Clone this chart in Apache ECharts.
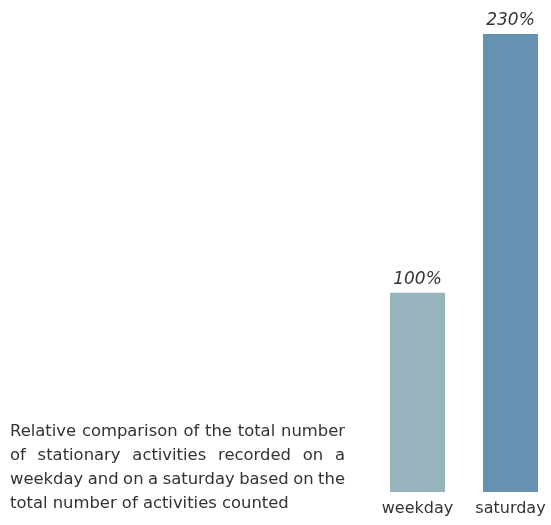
<!DOCTYPE html>
<html>
<head>
<meta charset="utf-8">
<script src="https://cdn.jsdelivr.net/npm/echarts@6/dist/echarts.min.js"></script>
<style>
  html, body { margin: 0; padding: 0; background: #fff; }
  #main { width: 551px; height: 525px; }
</style>
</head>
<body>
<div id="main"></div>
<script>
const days = ['weekday', 'saturday'];
const share = [100, 230];
const barColors = ['#97b4bd', '#6791b1'];
const noteLines = [
    'Relative comparison of the total number',
    'of stationary activities recorded on a',
    'weekday and on a saturday based on the',
    'total number of activities counted'
];

const FONT = '"DejaVu Sans", sans-serif';
const textColor = '#333';

// lay out the note as justified text (last line left aligned)
function noteGraphics() {
    const ctx = document.createElement('canvas').getContext('2d');
    // size the font so the last (unjustified) line is as long as in the original
    ctx.font = '16px ' + FONT;
    let size = 16 * 279 / ctx.measureText(noteLines[3]).width;
    size = Math.round(size * 10) / 10;
    const noteFont = size + 'px ' + FONT;
    ctx.font = noteFont;
    const left = 10, width = 335, top = 432, lineH = 24;
    let items = [];
    noteLines.forEach(function (line, i) {
        const y = top + i * lineH;
        if (i === noteLines.length - 1) {
            items.push({ type: 'text', x: left, y: y, style: { text: line, font: noteFont, fill: textColor, textVerticalAlign: 'middle' } });
            return;
        }
        const words = line.split(' ');
        const total = words.reduce((s, w) => s + ctx.measureText(w).width, 0);
        const gap = (width - total) / (words.length - 1);
        let x = left;
        words.forEach(function (w) {
            items.push({ type: 'text', x: x, y: y, style: { text: w, font: noteFont, fill: textColor, textVerticalAlign: 'middle' } });
            x += ctx.measureText(w).width + gap;
        });
    });
    return items;
}

function init() {
    let myChart = echarts.init(document.getElementById('main'));
    let option = {
        animation: false,
        grid: { left: 371, width: 186, top: 34, bottom: 33, outerBoundsMode: 'none', containLabel: false },
        xAxis: {
            type: 'category',
            data: days,
            axisLine: { show: false },
            axisTick: { show: false },
            axisLabel: { fontFamily: FONT, fontSize: 16, color: textColor, margin: 9 }
        },
        yAxis: {
            type: 'value',
            min: 0,
            max: 230,
            show: false,
            splitLine: { show: false }
        },
        series: [{
            type: 'bar',
            data: share.map((v, i) => ({ value: v, itemStyle: { color: barColors[i] } })),
            barWidth: 55,
            label: {
                show: true,
                position: 'top',
                distance: 5,
                formatter: '{c}%',
                fontFamily: FONT,
                fontStyle: 'italic',
                fontSize: 17,
                color: textColor
            }
        }],
        graphic: noteGraphics()
    };
    myChart.setOption(option);
}

document.addEventListener('DOMContentLoaded', init);
</script>
</body>
</html>
